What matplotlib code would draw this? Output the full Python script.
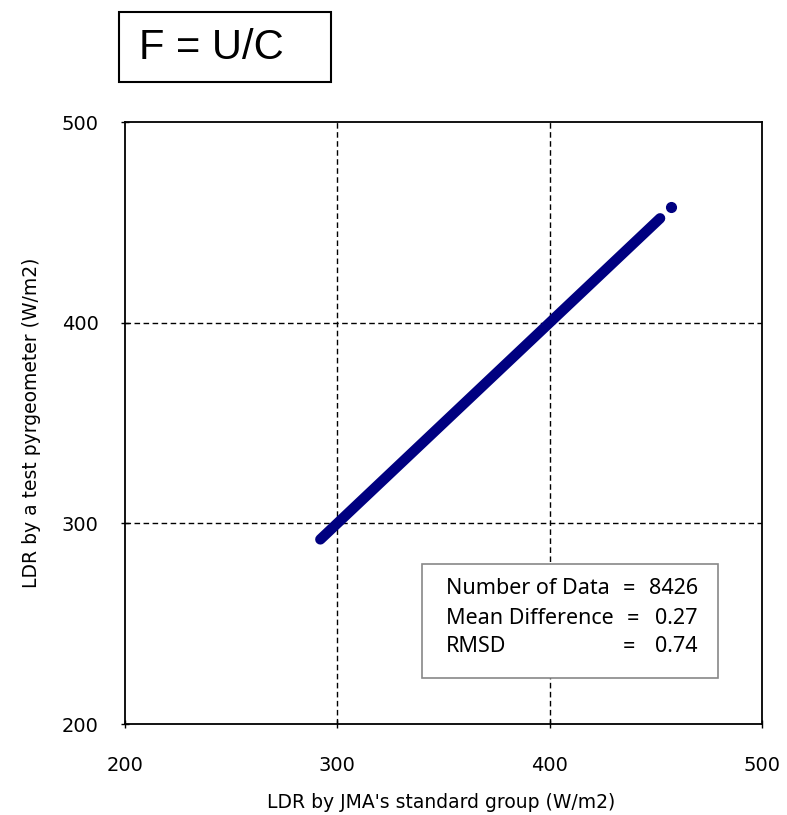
import matplotlib
matplotlib.use("Agg")
import matplotlib.pyplot as plt
from matplotlib.patches import Rectangle

# Data (W/m2)
std_group = [292, 300, 315, 330, 345, 360, 375, 390, 400, 415, 430, 445, 452]
test_pyrg = [292, 300, 315, 330, 345, 360, 375, 390, 400, 415, 430, 445, 452]
outlier_x = [457]
outlier_y = [457.5]

ticks = [200, 300, 400, 500]
tick_labels = ["200", "300", "400", "500"]
stats_names = ["Number of Data", "Mean Difference", "RMSD"]
stats_values = ["8426", "0.27", "0.74"]
title_text = "F = U/C"
xlabel = "LDR by JMA's standard group (W/m2)"
ylabel = "LDR by a test pyrgeometer (W/m2)"

fig = plt.figure(figsize=(7.87, 8.15), dpi=100)
ax = fig.add_axes([125/787, 1-724/815, (762-125)/787, (724-122)/815])

navy = "#000080"
ax.plot(std_group, test_pyrg, color=navy, lw=7.5, solid_capstyle="round", zorder=3)
ax.plot(outlier_x, outlier_y, "o", color=navy, ms=7, zorder=3)

ax.set_xlim(200, 500)
ax.set_ylim(200, 500)
ax.set_xticks(ticks)
ax.set_xticklabels(tick_labels)
ax.set_yticks(ticks)
ax.set_yticklabels(tick_labels)
ax.tick_params(direction="inout", length=6, width=1, labelsize=14, colors="black")
ax.tick_params(axis="x", pad=20)
ax.tick_params(axis="y", pad=16)
for s in ax.spines.values():
    s.set_linewidth(1.3)
    s.set_color("black")
for v in [300, 400]:
    ax.axvline(v, color="black", lw=1, ls=(0, (4, 2.5)), zorder=1)
    ax.axhline(v, color="black", lw=1, ls=(0, (4, 2.5)), zorder=1)

fig.text(441/787, 1-803/815, xlabel, fontsize=13.5, ha="center", va="center")
fig.text(32/787, 1-423/815, ylabel, fontsize=13.5, ha="center", va="center", rotation=90)

# stats box
box = Rectangle((422/787, 1-678/815), (718-422)/787, (678-564)/815,
                transform=fig.transFigure, fill=True, facecolor="white",
                edgecolor="#888888", lw=1.2, zorder=5)
fig.add_artist(box)
ys = [589, 619, 647]
eq_x = [629, 633, 629]
fam = "Noto Sans"
for name, val, y, ex in zip(stats_names, stats_values, ys, eq_x):
    fig.text(446/787, 1-y/815, name, fontsize=15.5, family=fam, va="center", ha="left", zorder=6)
    fig.text(ex/787, 1-y/815, "=", fontsize=15.5, family=fam, va="center", ha="center", zorder=6)
    fig.text(698/787, 1-y/815, val, fontsize=15.5, family=fam, va="center", ha="right", zorder=6)

# title box
tbox = Rectangle((119/787, 1-82/815), (331-119)/787, (82-12)/815,
                 transform=fig.transFigure, fill=False, edgecolor="black", lw=1.5)
fig.add_artist(tbox)
fig.text(139/787, 1-48/815, title_text, fontsize=30, family="Liberation Sans",
         va="center", ha="left")

fig.savefig("out.png", dpi=100, facecolor="white")
